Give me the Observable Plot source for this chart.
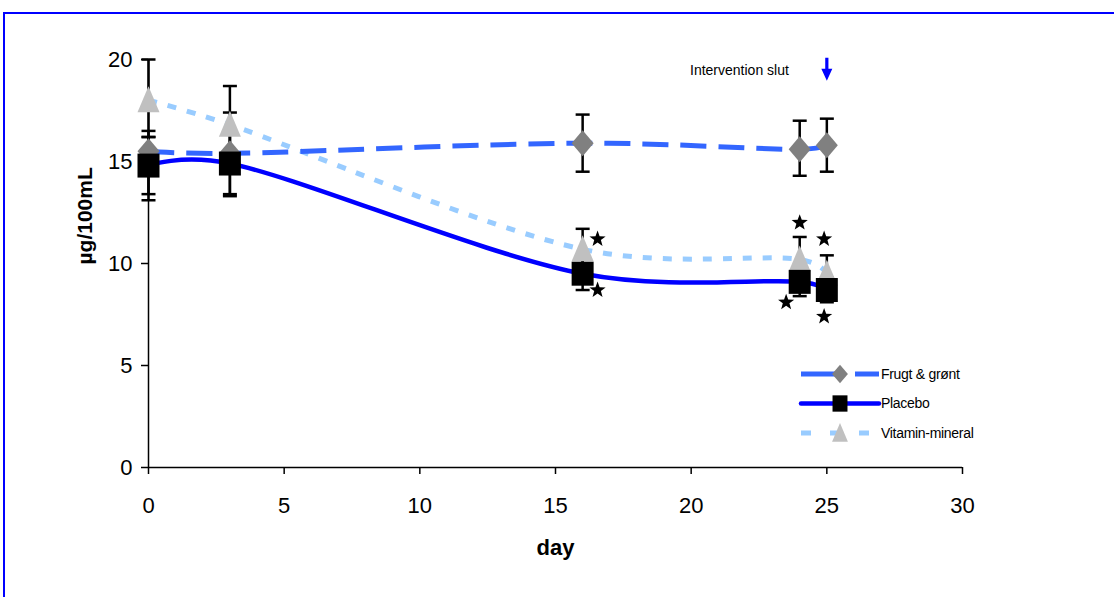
<!DOCTYPE html>
<html>
<head>
<meta charset="utf-8">
<script src="https://cdn.jsdelivr.net/npm/d3@7"></script>
<script src="https://cdn.jsdelivr.net/npm/@observablehq/plot@0.6"></script>
<style>
  html, body { margin: 0; padding: 0; background: #fff; overflow: hidden; }
  #wrap { position: relative; width: 1114px; height: 597px; overflow: hidden; font-family: "Liberation Sans", Arial, sans-serif; }
  #frame { position: absolute; left: 3px; top: 12px; width: 1300px; height: 800px; border: 2px solid #0000FF; box-sizing: border-box; }
  #chart, #legend { position: absolute; left: 0; top: 0; }
</style>
</head>
<body>
<div id="wrap">
  <div id="frame"></div>
  <div id="chart"></div>
  <svg id="legend" width="1114" height="597"></svg>
</div>
<script>
// ---- data ----
const days = [0, 3, 16, 24, 25];
const seriesNames = ["Frugt & grønt", "Placebo", "Vitamin-mineral"];
const frugt     = [15.5, 15.4, 15.9, 15.6, 15.8];
const frugtLo   = [13.4, 13.4, 14.5, 14.3, 14.5];
const frugtHi   = [16.2, 17.4, 17.3, 17.0, 17.1];
const placebo   = [14.8, 14.9, 9.5, 9.1, 8.7];
const placeboLo = [13.1, 13.3, 8.7, 8.4, 8.1];
const placeboHi = [16.5, 16.5, 10.3, 9.7, 9.3];
const vitamin   = [18.0, 16.8, 10.7, 10.2, 9.5];
const vitaminLo = [16.2, 15.0, 9.7, 9.0, 8.6];
const vitaminHi = [20.0, 18.7, 11.7, 11.3, 10.4];
const starDay   = [16.55, 16.55, 24.0, 23.5, 24.9, 24.9];
const starVal   = [11.2, 8.7, 12.0, 8.1, 11.2, 7.4];
const xTicks = [0, 5, 10, 15, 20, 25, 30];
const yTicks = [0, 5, 10, 15, 20];
const interventionDay = 25;
const interventionText = "Intervention slut";

// ---- tables ----
const rows = days.map((d, i) => ({
  day: d,
  frugt: frugt[i], frugtLo: frugtLo[i], frugtHi: frugtHi[i],
  placebo: placebo[i], placeboLo: placeboLo[i], placeboHi: placeboHi[i],
  vitamin: vitamin[i], vitaminLo: vitaminLo[i], vitaminHi: vitaminHi[i]
}));
const errs = [];
rows.forEach(r => {
  errs.push({day: r.day, lo: r.frugtLo, hi: r.frugtHi});
  errs.push({day: r.day, lo: r.placeboLo, hi: r.placeboHi});
  errs.push({day: r.day, lo: r.vitaminLo, hi: r.vitaminHi});
});
const caps = errs.flatMap(e => [{day: e.day, v: e.lo}, {day: e.day, v: e.hi}]);
const stars = starDay.map((d, i) => ({day: d, v: starVal[i]}));

// ---- custom symbols ----
const capSym = {draw(c) { c.moveTo(-7, 0); c.lineTo(7, 0); }};
const diamondSym = {draw(c) { c.moveTo(0, -13); c.lineTo(11, 0); c.lineTo(0, 13); c.lineTo(-11, 0); c.closePath(); }};
const squareSym = {draw(c) { c.moveTo(-11, -12); c.lineTo(11, -12); c.lineTo(11, 12); c.lineTo(-11, 12); c.closePath(); }};
const triSym = {draw(c) { c.moveTo(0, -14); c.lineTo(11, 12); c.lineTo(-11, 12); c.closePath(); }};
const starSym = {draw(c) {
  const R = 8.5, r = 3.5;
  for (let k = 0; k < 10; k++) {
    const a = -Math.PI / 2 + k * Math.PI / 5, rr = k % 2 ? r : R;
    const px = rr * Math.cos(a), py = rr * Math.sin(a);
    k ? c.lineTo(px, py) : c.moveTo(px, py);
  }
  c.closePath();
}};
const arrowSym = {draw(c) {
  c.moveTo(-1.6, -12); c.lineTo(1.6, -12); c.lineTo(1.6, -1); c.lineTo(5.5, -1);
  c.lineTo(0, 11); c.lineTo(-5.5, -1); c.lineTo(-1.6, -1); c.closePath();
}};

const smooth = d3.curveCatmullRom.alpha(0.25);

const chart = Plot.plot({
  width: 1114, height: 597,
  marginLeft: 148, marginRight: 152, marginTop: 59, marginBottom: 130,
  x: {domain: [0, 30]},
  y: {domain: [0, 20]},
  style: {fontFamily: "'Liberation Sans', Arial, sans-serif", fontSize: "22px", color: "#000", background: "transparent", overflow: "visible"},
  marks: [
    Plot.axisX({ticks: xTicks, tickSize: 7, tickPadding: 23, label: null, strokeWidth: 1.5, fontSize: 22}),
    Plot.axisY({ticks: yTicks, tickSize: 7, tickPadding: 9, label: null, strokeWidth: 1.5, fontSize: 22}),
    Plot.ruleY([0], {x1: 0, x2: 30, stroke: "#000", strokeWidth: 1.5}),
    Plot.ruleX([0], {y1: 0, y2: 20, stroke: "#000", strokeWidth: 1.5}),
    Plot.text(["day"], {frameAnchor: "bottom", dy: 87, fontSize: 22, fontWeight: "bold"}),
    Plot.text(["µg/100mL"], {frameAnchor: "left", dx: -63, dy: 1, rotate: -90, fontSize: 21, fontWeight: "bold"}),
    // error bars
    Plot.ruleX(errs, {x: "day", y1: "lo", y2: "hi", stroke: "#000", strokeWidth: 2.5}),
    Plot.dot(caps, {x: "day", y: "v", symbol: capSym, stroke: "#000", strokeWidth: 2.5, fill: "none"}),
    // smoothed lines
    Plot.line(rows, {x: "day", y: "vitamin", curve: smooth, stroke: "#99CCFF", strokeWidth: 5, strokeDasharray: "9,11", strokeLinecap: "butt"}),
    Plot.line(rows, {x: "day", y: "frugt", curve: smooth, stroke: "#3366FF", strokeWidth: 5, strokeDasharray: "26,12", strokeLinecap: "butt"}),
    Plot.line(rows, {x: "day", y: "placebo", curve: smooth, stroke: "#0000FF", strokeWidth: 4.5}),
    // markers
    Plot.dot(rows, {x: "day", y: "frugt", symbol: diamondSym, fill: "#808080", stroke: "none"}),
    Plot.dot(rows, {x: "day", y: "vitamin", symbol: triSym, fill: "#C0C0C0", stroke: "none"}),
    Plot.dot(rows, {x: "day", y: "placebo", symbol: squareSym, fill: "#000", stroke: "none"}),
    // significance stars
    Plot.dot(stars, {x: "day", y: "v", symbol: starSym, fill: "#000", stroke: "none"}),
    // intervention end annotation
    Plot.dot([interventionDay], {x: d => d, y: 19.5, symbol: arrowSym, fill: "#0000FF", stroke: "none"}),
    Plot.text([interventionText], {x: 23.6, y: 19.45, textAnchor: "end", fontSize: 14, letterSpacing: "-0.3px"})
  ]
});
document.getElementById("chart").appendChild(chart);

// ---- legend ----
const lg = d3.select("#legend");
const legendItems = [
  {name: seriesNames[0], stroke: "#3366FF", dash: "44,10", sym: diamondSym, fill: "#808080", w: 5},
  {name: seriesNames[1], stroke: "#0000FF", dash: null, sym: squareSym, fill: "#000", w: 4.5},
  {name: seriesNames[2], stroke: "#99CCFF", dash: "10,19", sym: triSym, fill: "#C0C0C0", w: 5}
];
const scaleSym = [0.72, 0.68, 0.72];
legendItems.forEach((it, i) => {
  const y = 374 + i * 29.5;
  lg.append("line").attr("x1", 801).attr("x2", 879).attr("y1", y).attr("y2", y)
    .attr("stroke", it.stroke).attr("stroke-width", it.w)
    .attr("stroke-dasharray", it.dash).attr("stroke-linecap", it.dash ? "butt" : "round");
  const p = d3.path(); it.sym.draw(p);
  lg.append("path").attr("d", p.toString()).attr("fill", it.fill)
    .attr("transform", `translate(840,${y}) scale(${scaleSym[i]})`);
  lg.append("text").attr("x", 881).attr("y", y).attr("dy", "0.35em")
    .attr("font-size", 14).attr("letter-spacing", "-0.3px")
    .attr("font-family", "'Liberation Sans', Arial, sans-serif").text(it.name);
});
</script>
</body>
</html>
